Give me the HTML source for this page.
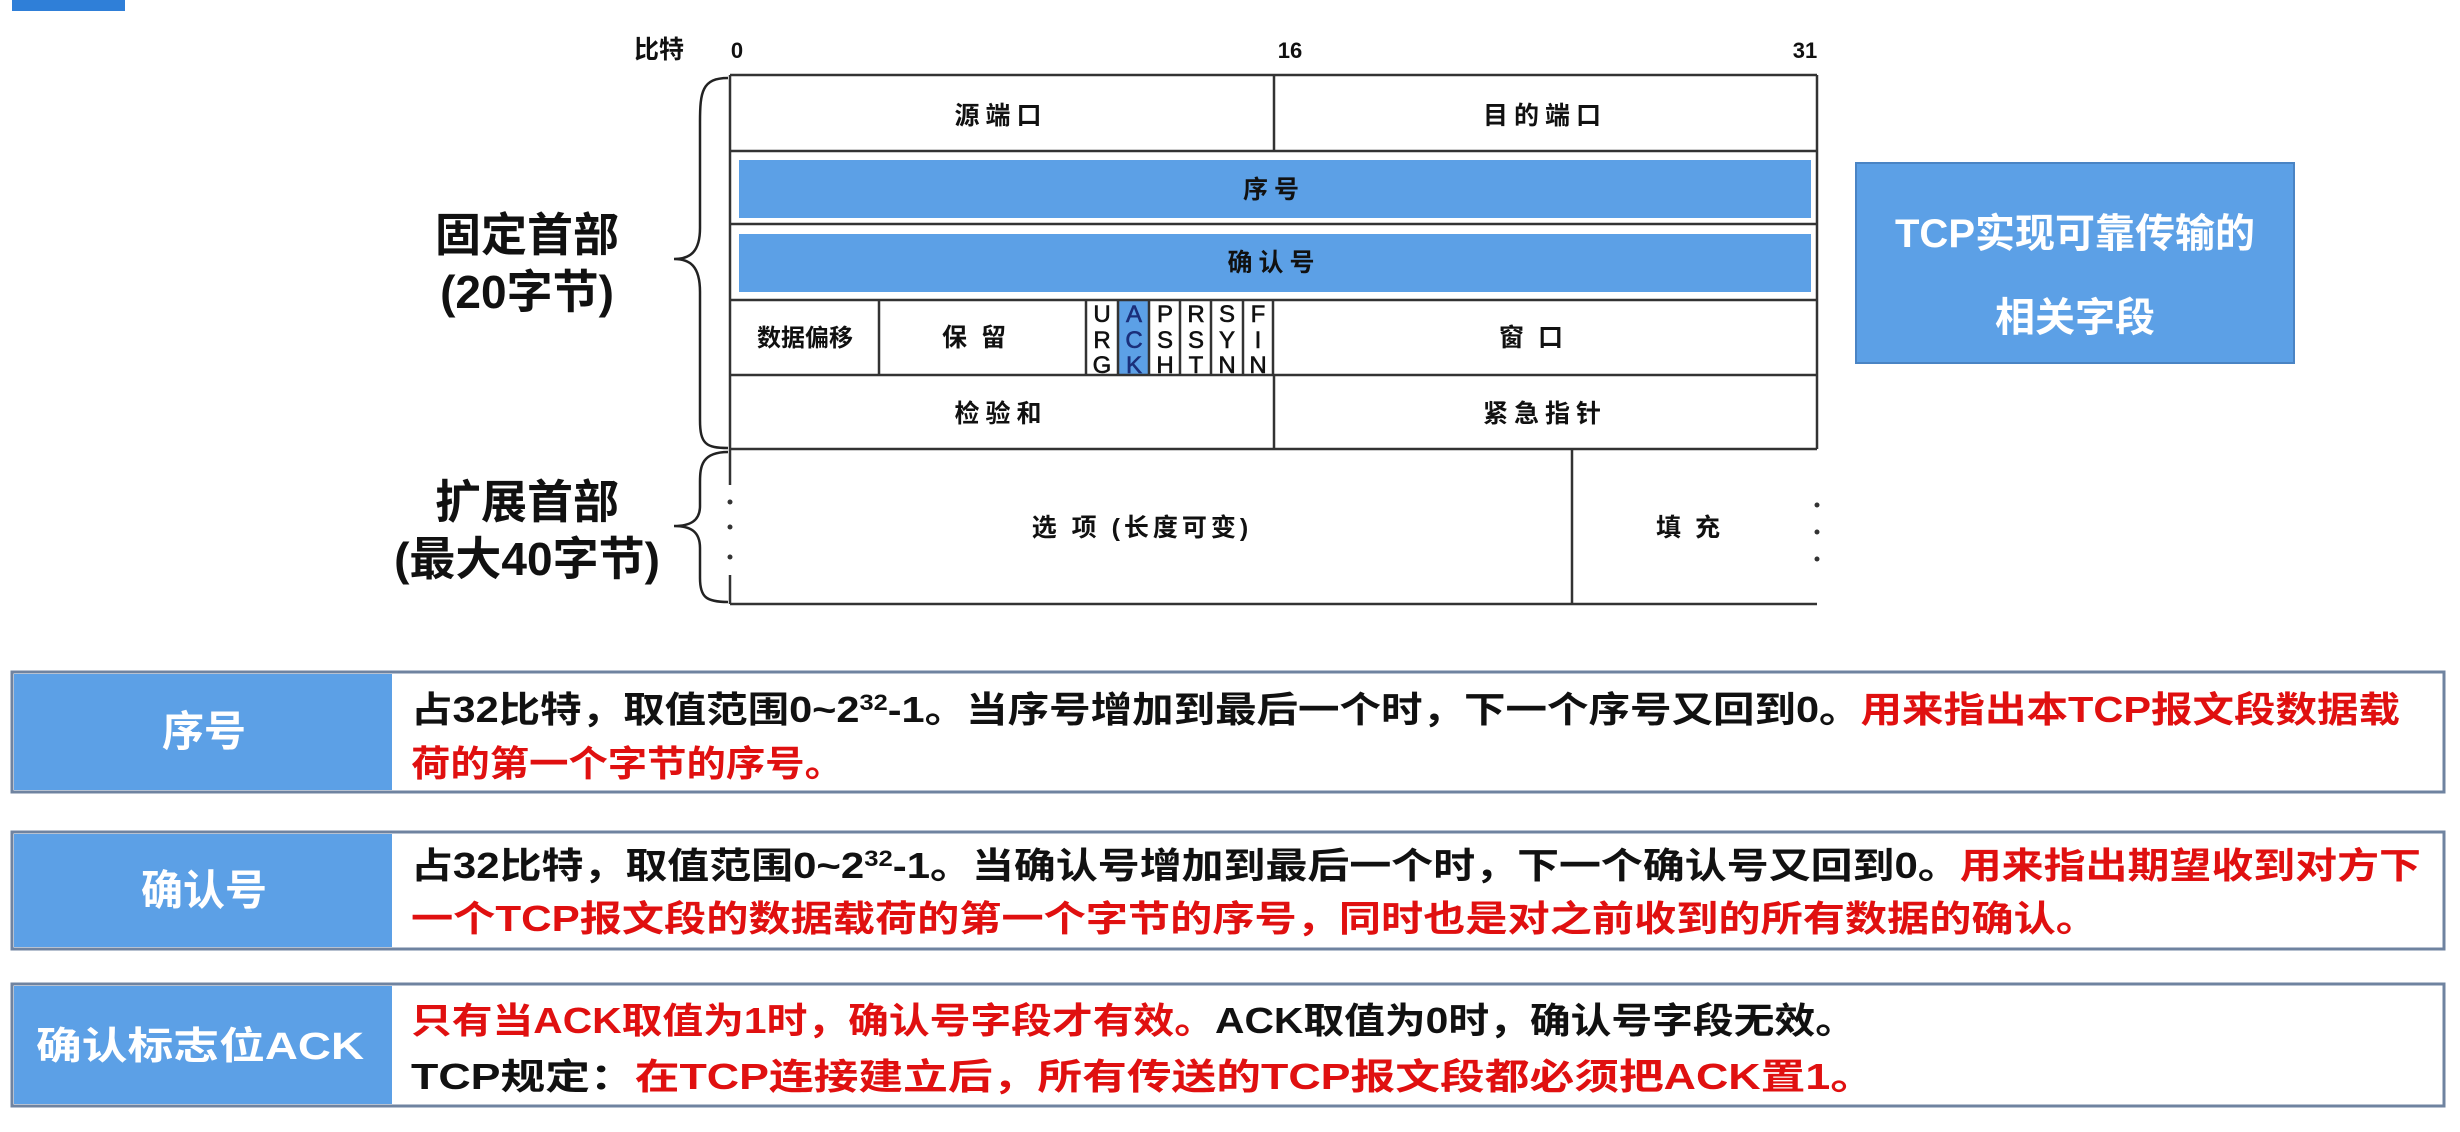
<!DOCTYPE html>
<html><head><meta charset="utf-8"><style>
html,body{margin:0;padding:0;background:#fff;}
svg{display:block;}
text{font-family:"Liberation Sans","Noto Sans CJK SC",sans-serif;font-weight:bold;}
</style></head><body>
<svg width="2460" height="1132" viewBox="0 0 2460 1132" xmlns="http://www.w3.org/2000/svg">
<rect x="12" y="0" width="113" height="11" fill="#2f7fd8"/>
<text x="659" y="58" font-size="25" text-anchor="middle" fill="#111">比特</text>
<text x="737" y="58" font-size="22" text-anchor="middle" fill="#111">0</text>
<text x="1290" y="58" font-size="22" text-anchor="middle" fill="#111">16</text>
<text x="1805" y="58" font-size="22" text-anchor="middle" fill="#111">31</text>
<rect x="739" y="160" width="1072" height="58" fill="#5ca0e6"/>
<rect x="739" y="234" width="1072" height="58" fill="#5ca0e6"/>
<rect x="1118" y="300" width="31" height="75" fill="#5ca0e6"/>
<g stroke="#333" stroke-width="2.5" fill="none">
<line x1="730" y1="75" x2="1817" y2="75"/>
<line x1="730" y1="151" x2="1817" y2="151"/>
<line x1="730" y1="224" x2="1817" y2="224"/>
<line x1="730" y1="300" x2="1817" y2="300"/>
<line x1="730" y1="375" x2="1817" y2="375"/>
<line x1="730" y1="449" x2="1817" y2="449"/>
<line x1="730" y1="604" x2="1817" y2="604"/>
<line x1="730" y1="75" x2="730" y2="449"/>
<line x1="1817" y1="75" x2="1817" y2="449"/>
<line x1="1274" y1="75" x2="1274" y2="151"/>
<line x1="1274" y1="375" x2="1274" y2="449"/>
<line x1="879" y1="300" x2="879" y2="375"/>
<line x1="1086" y1="300" x2="1086" y2="375"/>
<line x1="1118" y1="300" x2="1118" y2="375"/>
<line x1="1149" y1="300" x2="1149" y2="375"/>
<line x1="1180" y1="300" x2="1180" y2="375"/>
<line x1="1211" y1="300" x2="1211" y2="375"/>
<line x1="1243" y1="300" x2="1243" y2="375"/>
<line x1="1273" y1="300" x2="1273" y2="375"/>
<line x1="1572" y1="449" x2="1572" y2="604"/>
<line x1="730" y1="449" x2="730" y2="485"/>
<line x1="730" y1="575" x2="730" y2="604"/>
</g>
<g fill="#333">
<circle cx="730" cy="502" r="2.5"/><circle cx="730" cy="527" r="2.5"/><circle cx="730" cy="557" r="2.5"/>
<circle cx="1817" cy="505" r="2.5"/><circle cx="1817" cy="532" r="2.5"/><circle cx="1817" cy="559" r="2.5"/>
</g>
<g stroke="#222" stroke-width="2.5" fill="none">
<path d="M728,78 C702,78 700,92 700,122 L700,228 C700,252 690,259 674,259 C690,259 700,266 700,292 L700,420 C700,444 706,448 728,448"/>
<path d="M728,452 C702,452 700,466 700,482 L700,506 C700,521 690,526 674,526 C690,526 700,531 700,548 L700,578 C700,597 706,602 728,602"/>
</g>
<g font-size="25" fill="#111" text-anchor="middle">
<text x="1001" y="124" letter-spacing="6">源端口</text>
<text x="1545" y="124" letter-spacing="6">目的端口</text>
<text x="1274" y="198" letter-spacing="6">序号</text>
<text x="1274" y="271" letter-spacing="6">确认号</text>
<text x="805" y="346" font-size="24">数据偏移</text>
<text x="981" y="346" letter-spacing="14">保留</text>
<text x="1538" y="346" letter-spacing="14">窗口</text>
<text x="1001" y="422" letter-spacing="6">检验和</text>
<text x="1545" y="422" letter-spacing="6">紧急指针</text>
<text x="1142" y="536" letter-spacing="4">选 项 (长度可变)</text>
<text x="1695" y="536" letter-spacing="14">填充</text>
</g>
<g font-size="24" fill="#111" text-anchor="middle" stroke="#111" stroke-width="0.6">
<text x="1102" y="322" style="font-weight:normal">U</text><text x="1102" y="348" style="font-weight:normal">R</text><text x="1102" y="373" style="font-weight:normal">G</text>
<text x="1134" y="322" fill="#1b2f7a" stroke="#1b2f7a" style="font-weight:normal">A</text><text x="1134" y="348" fill="#1b2f7a" stroke="#1b2f7a" style="font-weight:normal">C</text><text x="1134" y="373" fill="#1b2f7a" stroke="#1b2f7a" style="font-weight:normal">K</text>
<text x="1165" y="322" style="font-weight:normal">P</text><text x="1165" y="348" style="font-weight:normal">S</text><text x="1165" y="373" style="font-weight:normal">H</text>
<text x="1196" y="322" style="font-weight:normal">R</text><text x="1196" y="348" style="font-weight:normal">S</text><text x="1196" y="373" style="font-weight:normal">T</text>
<text x="1227" y="322" style="font-weight:normal">S</text><text x="1227" y="348" style="font-weight:normal">Y</text><text x="1227" y="373" style="font-weight:normal">N</text>
<text x="1258" y="322" style="font-weight:normal">F</text><text x="1258" y="348" style="font-weight:normal">I</text><text x="1258" y="373" style="font-weight:normal">N</text>
</g>
<g font-size="46" fill="#111" text-anchor="middle">
<text x="527" y="251">固定首部</text>
<text x="527" y="308">(20字节)</text>
<text x="527" y="518">扩展首部</text>
<text x="527" y="575">(最大40字节)</text>
</g>
<rect x="1856" y="163" width="438" height="200" fill="#5ca0e6" stroke="#4a84c4" stroke-width="2"/>
<g font-size="40" fill="#fff" text-anchor="middle">
<text x="2075" y="247">TCP实现可靠传输的</text>
<text x="2075" y="331">相关字段</text>
</g>
<g stroke="#6f83a0" stroke-width="3">
<rect x="12" y="672" width="2432" height="120" fill="#fff"/>
<rect x="12" y="832" width="2432" height="117" fill="#fff"/>
<rect x="12" y="984" width="2432" height="122" fill="#fff"/>
</g>
<rect x="14" y="674" width="378" height="116" fill="#5ca0e6"/>
<rect x="14" y="834" width="378" height="113" fill="#5ca0e6"/>
<rect x="14" y="986" width="378" height="118" fill="#5ca0e6"/>
<g fill="#fff" text-anchor="middle">
<text x="204" y="746" font-size="42">序号</text>
<text x="204" y="905" font-size="42">确认号</text>
<text x="200" y="1059" font-size="38" textLength="328" lengthAdjust="spacingAndGlyphs">确认标志位ACK</text>
</g>
<g font-size="36" fill="#111">
<text x="411" y="722" textLength="1989" lengthAdjust="spacingAndGlyphs">占32比特，取值范围0~2<tspan font-size="22" dy="-12">32</tspan><tspan dy="12">-1。当序号增加到最后一个时，下一个序号又回到0。</tspan><tspan fill="#e01010">用来指出本TCP报文段数据载</tspan></text>
<text x="411" y="776" textLength="433" lengthAdjust="spacingAndGlyphs" fill="#e01010">荷的第一个字节的序号。</text>
<text x="411" y="878" textLength="2010" lengthAdjust="spacingAndGlyphs">占32比特，取值范围0~2<tspan font-size="22" dy="-12">32</tspan><tspan dy="12">-1。当确认号增加到最后一个时，下一个确认号又回到0。</tspan><tspan fill="#e01010">用来指出期望收到对方下</tspan></text>
<text x="411" y="931" textLength="1687" lengthAdjust="spacingAndGlyphs" fill="#e01010">一个TCP报文段的数据载荷的第一个字节的序号，同时也是对之前收到的所有数据的确认。</text>
<text x="411" y="1033" textLength="1445" lengthAdjust="spacingAndGlyphs"><tspan fill="#e01010">只有当ACK取值为1时，确认号字段才有效。</tspan>ACK取值为0时，确认号字段无效。</text>
<text x="411" y="1089" textLength="1464" lengthAdjust="spacingAndGlyphs">TCP规定：<tspan fill="#e01010">在TCP连接建立后，所有传送的TCP报文段都必须把ACK置1。</tspan></text>
</g>
</svg>
</body></html>
